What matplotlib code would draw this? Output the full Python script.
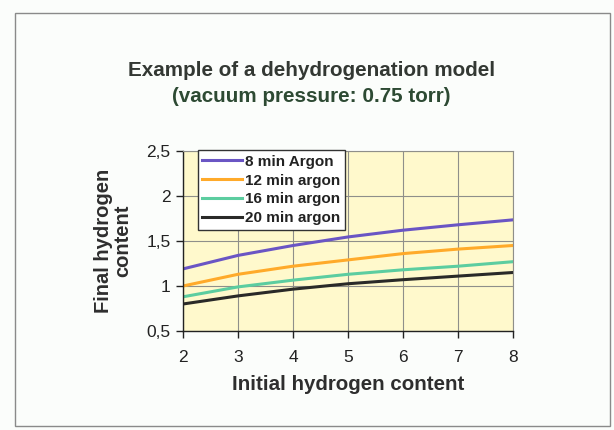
import matplotlib
matplotlib.use("Agg")
import matplotlib.pyplot as plt
from matplotlib.patches import Rectangle

plt.rcParams['font.family'] = ['Liberation Sans', 'DejaVu Sans']

# data
initial_h = [2, 3, 4, 5, 6, 7, 8]
argon_8 = [1.19, 1.34, 1.45, 1.545, 1.62, 1.68, 1.735]
argon_12 = [1.00, 1.13, 1.22, 1.29, 1.36, 1.41, 1.45]
argon_16 = [0.88, 0.99, 1.065, 1.13, 1.18, 1.22, 1.27]
argon_20 = [0.80, 0.89, 0.965, 1.025, 1.07, 1.11, 1.15]
series_labels = ["8 min Argon", "12 min argon", "16 min argon", "20 min argon"]
series_colors = ["#6a55c4", "#ffaa2a", "#5ccda0", "#2a2a28"]
y_ticks = [0.5, 1, 1.5, 2, 2.5]
y_ticklabels = ["0,5", "1", "1,5", "2", "2,5"]

fig = plt.figure(figsize=(6.14, 4.30), dpi=100)
fig.patch.set_facecolor("#fbfdfb")

# outer frame of the chart area
fig.add_artist(Rectangle((15 / 614, 1 - 426 / 430), 595 / 614, 413 / 430,
                         transform=fig.transFigure, fill=False,
                         edgecolor="#8a8a8a", linewidth=1.0))

ax = fig.add_axes([183 / 614, 1 - 331 / 430, 330 / 614, 180 / 430])
ax.set_facecolor("#fff9cc")

for ys, lab, col in zip([argon_8, argon_12, argon_16, argon_20], series_labels, series_colors):
    ax.plot(initial_h, ys, color=col, linewidth=2.2, label=lab)

ax.set_xlim(2, 8)
ax.set_ylim(0.5, 2.5)
ax.set_xticks(initial_h)
ax.set_yticks(y_ticks)
ax.set_yticklabels(y_ticklabels)
ax.tick_params(axis="both", labelsize=12.5, colors="#222222", length=5, width=1)
ax.tick_params(axis="x", pad=9)
ax.tick_params(axis="y", pad=4)
ax.grid(True, color="#8f8f8a", linewidth=0.8)
ax.set_axisbelow(True)

for side in ["top", "right"]:
    ax.spines[side].set_color("#8f8f8a")
    ax.spines[side].set_linewidth(0.8)
for side in ["left", "bottom"]:
    ax.spines[side].set_color("#222222")
    ax.spines[side].set_linewidth(1.0)

ax.set_xlabel("Initial hydrogen content", fontsize=14.8, fontweight="bold",
              color="#2e2e2e", labelpad=7)
ax.set_ylabel("Final hydrogen\ncontent", fontsize=14.5, fontweight="bold",
              color="#2e2e2e", labelpad=10, linespacing=1.05)

leg = ax.legend(loc="upper left", bbox_to_anchor=(0.045, 1.005), fontsize=11,
                frameon=True, fancybox=False, framealpha=1,
                handlelength=2.6, handletextpad=0.2, labelspacing=0.32,
                borderpad=0.3, borderaxespad=0)
leg.get_frame().set_edgecolor("#333333")
leg.get_frame().set_linewidth(1.0)
for t in leg.get_texts():
    t.set_fontweight("bold")
    t.set_color("#222222")

fig.text(0.507, 1 - 70 / 430, "Example of a dehydrogenation model",
         ha="center", va="center", fontsize=14.9, fontweight="bold", color="#333833")
fig.text(0.507, 1 - 97 / 430, "(vacuum pressure: 0.75 torr)",
         ha="center", va="center", fontsize=14.9, fontweight="bold", color="#2d4a33")

fig.savefig("out.png", dpi=100)
